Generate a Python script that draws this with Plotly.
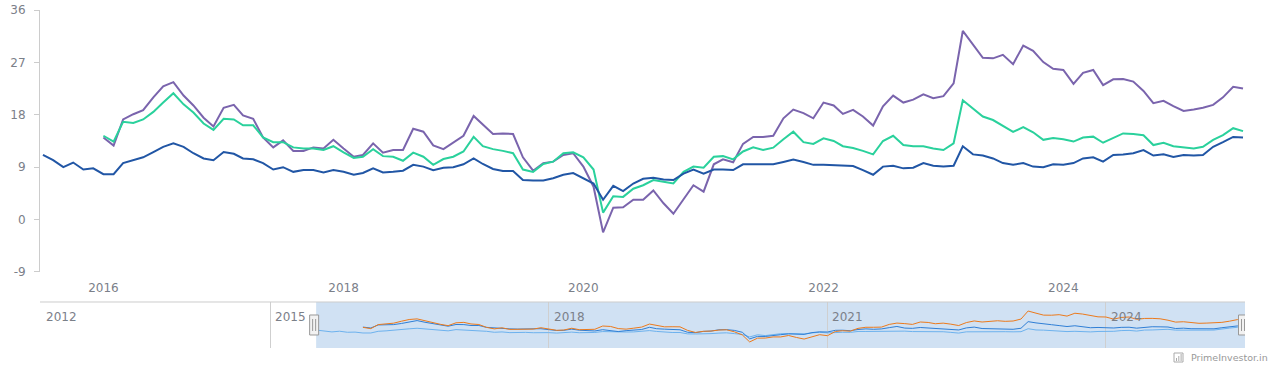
import pandas as pd
import plotly.graph_objects as go

# ---------------- data ----------------
dates = pd.date_range("2015-07-01", periods=121, freq="MS")

blue_series = [
    11.1, 10.2, 9.0, 9.8, 8.6, 8.8, 7.8, 7.8, 9.7, 10.2,
    10.7, 11.6, 12.5, 13.1, 12.5, 11.4, 10.5, 10.2, 11.6, 11.3,
    10.5, 10.35, 9.7, 8.6, 9.0, 8.2, 8.5, 8.5, 8.1, 8.5,
    8.2, 7.7, 8.0, 8.8, 8.1, 8.2, 8.4, 9.4, 9.1, 8.5,
    8.9, 9.0, 9.5, 10.5, 9.55, 8.7, 8.35, 8.35, 6.8, 6.7,
    6.7, 7.1, 7.7, 8.0, 7.1, 6.2, 3.4, 5.8, 4.9, 6.2,
    7.0, 7.2, 6.9, 6.8, 7.9, 8.6, 7.9, 8.6, 8.6, 8.5,
    9.5, 9.5, 9.5, 9.5, 9.9, 10.3, 9.9, 9.4, 9.4, 9.3,
    9.25, 9.2, 8.5, 7.7, 9.1, 9.25, 8.8, 8.9, 9.7, 9.25,
    9.1, 9.25, 12.6, 11.2, 11.0, 10.5, 9.7, 9.4, 9.7, 9.1,
    9.0, 9.5, 9.4, 9.7, 10.5, 10.7, 9.95, 11.1, 11.2, 11.4,
    11.95, 11.0, 11.2, 10.75, 11.1, 11.0, 11.1, 12.5, 13.3, 14.2, 14.1,
]

green_series = [None] * 6 + [
    14.4, 13.4, 16.8, 16.6,
    17.2, 18.5, 20.1, 21.7, 19.8, 18.4, 16.5, 15.4, 17.3, 17.2,
    16.2, 16.2, 14.1, 13.3, 13.3, 12.4, 12.2, 12.2, 11.95, 12.6,
    11.55, 10.6, 10.8, 12.1, 10.9, 10.8, 10.1, 11.5, 10.8, 9.4,
    10.4, 10.8, 11.7, 14.2, 12.6, 12.1, 11.8, 11.4, 8.6, 8.2,
    9.55, 9.95, 11.4, 11.55, 10.7, 8.6, 1.2, 4.0, 3.9, 5.3,
    5.9, 6.8, 6.5, 6.2, 8.2, 9.1, 8.9, 10.8, 10.9, 10.35,
    11.7, 12.4, 11.95, 12.35, 13.8, 15.1, 13.3, 13.0, 13.96, 13.5,
    12.6, 12.3, 11.8, 11.2, 13.5, 14.4, 12.8, 12.6, 12.6, 12.2,
    11.95, 13.1, 20.5, 19.1, 17.7, 17.1, 16.1, 15.05, 15.9, 15.0,
    13.7, 14.0, 13.8, 13.4, 14.1, 14.25, 13.2, 14.0, 14.8, 14.7,
    14.5, 12.8, 13.2, 12.6, 12.4, 12.2, 12.5, 13.7, 14.5, 15.7, 15.2,
]

purple_series = [None] * 6 + [
    14.1, 12.7, 17.2, 18.1,
    18.8, 21.0, 22.9, 23.6, 21.3, 19.6, 17.5, 16.0, 19.2, 19.7,
    17.9, 17.3, 14.1, 12.4, 13.6, 11.8, 11.8, 12.4, 12.2, 13.7,
    12.2, 10.8, 11.1, 13.1, 11.5, 11.95, 11.95, 15.6, 15.1, 12.75,
    12.1, 13.2, 14.4, 17.8, 16.25, 14.7, 14.8, 14.7, 10.7, 8.4,
    9.7, 9.95, 11.1, 11.4, 9.1, 5.65, -2.2, 2.05, 2.1, 3.4,
    3.4, 5.0, 2.8, 1.0, 3.5, 5.9, 4.8, 9.5, 10.35, 9.85,
    13.0, 14.2, 14.2, 14.4, 17.4, 18.9, 18.3, 17.4, 20.1, 19.6,
    18.15, 18.85, 17.7, 16.15, 19.45, 21.3, 20.1, 20.6, 21.5, 20.85,
    21.2, 23.4, 32.4, 30.0, 27.8, 27.7, 28.3, 26.7, 29.9, 29.0,
    27.05, 25.9, 25.7, 23.3, 25.2, 25.7, 23.1, 24.1, 24.15, 23.7,
    22.1, 20.0, 20.4, 19.5, 18.65, 18.9, 19.2, 19.7, 21.0, 22.8, 22.5,
]

y_ticks = [-9, 0, 9, 18, 27, 36]
y_tick_labels = [str(v) for v in y_ticks]
nav_label_years = [2012, 2015, 2018, 2021, 2024]
credit_text = "PrimeInvestor.in"

# ---------------- style ----------------
FONT = "DejaVu Sans"
LABEL = "#7b8089"
AXIS = "#cccccc"
C_BLUE, C_GREEN, C_PURPLE = "#2156a5", "#2ad19c", "#7a64ad"
N_ORANGE, N_BLUE, N_LIGHT = "#ec7a1c", "#2f7fd6", "#6db2ee"

main_range = ["2015-06-22", "2025-07-07"]
nav_range = ["2012-07-10", "2025-07-01"]

fig = go.Figure()

for vals, col in [(purple_series, C_PURPLE), (green_series, C_GREEN), (blue_series, C_BLUE)]:
    fig.add_trace(go.Scatter(x=dates, y=vals, mode="lines", line=dict(color=col, width=2),
                             xaxis="x", yaxis="y", showlegend=False, hoverinfo="skip"))

for vals, col in [(blue_series, N_LIGHT), (green_series, N_BLUE), (purple_series, N_ORANGE)]:
    fig.add_trace(go.Scatter(x=dates, y=vals, mode="lines", line=dict(color=col, width=1),
                             xaxis="x2", yaxis="y2", showlegend=False, hoverinfo="skip"))

shapes = []
# navigator selection mask
shapes.append(dict(type="rect", xref="x2", yref="y2 domain", x0=dates[0], x1=dates[-1],
                   y0=0, y1=1, fillcolor="#d0e1f3", line=dict(width=0), layer="below"))
# navigator top outline
shapes.append(dict(type="line", xref="x2 domain", yref="y2 domain", x0=0, x1=1, y0=1, y1=1,
                   line=dict(color=AXIS, width=1)))
# handles at selection bounds
for d in [dates[0], dates[-1]]:
    shapes.append(dict(type="rect", xref="x2", yref="y2 domain", xsizemode="pixel",
                       xanchor=d, x0=-6.5, x1=2.5, ysizemode="pixel", yanchor=0.5, y0=-10, y1=10,
                       fillcolor="#f2f2f2", line=dict(color="#999999", width=1)))
    for off in (-3.5, -0.5):
        shapes.append(dict(type="line", xref="x2", yref="y2 domain", xsizemode="pixel",
                           xanchor=d, x0=off, x1=off, ysizemode="pixel", yanchor=0.5, y0=-6, y1=6,
                           line=dict(color="#999999", width=1)))
# credits icon
shapes.append(dict(type="rect", xref="paper", yref="paper", xsizemode="pixel", xanchor=1,
                   x0=-71, x1=-62, ysizemode="pixel", yanchor=0, y0=-14, y1=-5,
                   line=dict(color="#aaaaaa", width=1), fillcolor="rgba(0,0,0,0)"))
for i, h in enumerate([3, 5, 7]):
    shapes.append(dict(type="rect", xref="paper", yref="paper", xsizemode="pixel", xanchor=1,
                       x0=-69 + 2.3 * i, x1=-68 + 2.3 * i, ysizemode="pixel", yanchor=0,
                       y0=-13, y1=-13 + h, line=dict(width=0), fillcolor="#aaaaaa"))

annotations = []
nav_start = pd.Timestamp(nav_range[0])
for yr in nav_label_years:
    t = pd.Timestamp(f"{yr}-01-01")
    x = max(t, nav_start)
    annotations.append(dict(text=str(yr), xref="x2", yref="y2 domain", x=x, y=1,
                            xanchor="left", yanchor="top", xshift=4 if t < nav_start else 3,
                            yshift=-6, showarrow=False,
                            font=dict(family=FONT, size=12, color=LABEL)))
annotations.append(dict(text=credit_text, xref="paper", yref="paper", x=1, y=0,
                        xanchor="right", yanchor="middle", xshift=25, yshift=-9,
                        showarrow=False, font=dict(family=FONT, size=9.5, color="#999999")))

nav_grid = [pd.Timestamp(f"{y}-01-01") for y in nav_label_years if pd.Timestamp(f"{y}-01-01") > nav_start]

fig.update_layout(
    width=1272, height=369,
    margin=dict(l=40, r=27, t=10, b=21, pad=0, autoexpand=False),
    paper_bgcolor="white", plot_bgcolor="rgba(0,0,0,0)",
    font=dict(family=FONT, size=12, color=LABEL),
    xaxis=dict(domain=[0, 1], anchor="y", type="date", range=main_range, automargin=False,
               tick0="2016-01-01", dtick="M24", tickformat="%Y", ticklabelstandoff=7,
               showgrid=False, zeroline=False, showline=False, ticks="",
               tickfont=dict(family=FONT, size=12, color=LABEL)),
    yaxis=dict(domain=[0.2249, 1], anchor="x", range=[-9, 36], tickvals=y_ticks,
               ticktext=y_tick_labels, automargin=False, ticklabelstandoff=6,
               showgrid=False, zeroline=False, showline=True, linecolor=AXIS, linewidth=1,
               ticks="outside", ticklen=5, tickcolor=AXIS,
               tickfont=dict(family=FONT, size=12, color=LABEL)),
    xaxis2=dict(domain=[0, 1], anchor="y2", type="date", range=nav_range, automargin=False,
                tickvals=nav_grid, showticklabels=False, showgrid=True, gridcolor="#cfcfcf",
                gridwidth=1, zeroline=False, showline=False, ticks=""),
    yaxis2=dict(domain=[0, 0.1361], anchor="x2", range=[-9, 42.5], showgrid=False,
                automargin=False,
                zeroline=False, showticklabels=False, showline=False, ticks=""),
    shapes=shapes,
    annotations=annotations,
)

fig.write_html("out.html", config={"displayModeBar": False},
               post_script="document.body.style.margin='0';")
